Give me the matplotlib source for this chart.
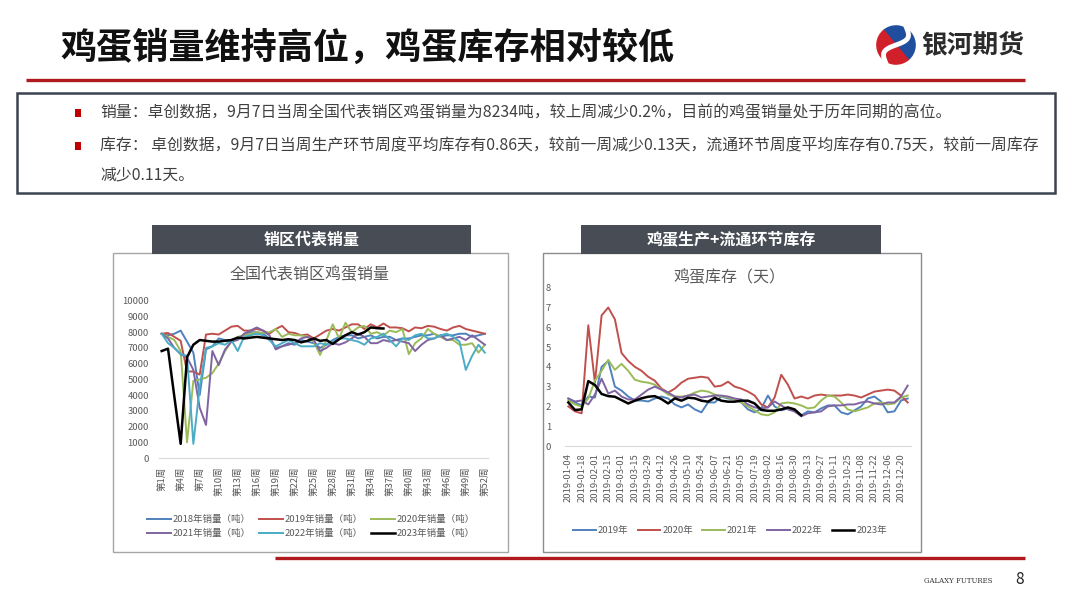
import matplotlib
matplotlib.use("Agg")
import matplotlib.pyplot as plt
from matplotlib.patches import Rectangle, Wedge
import numpy as np

plt.rcParams['font.family'] = ['Noto Sans CJK SC', 'DejaVu Sans']

W, H = 1080, 608

# ---------------- data: weekly sales (tons), weeks 1..52 ----------------
sales_weeks = list(range(1, 53))
sales_tick_labels = ["第1周", "第4周", "第7周", "第10周", "第13周", "第16周", "第19周", "第22周",
                     "第25周", "第28周", "第31周", "第34周", "第37周", "第40周", "第43周", "第46周",
                     "第49周", "第52周"]
sales_2018 = [7900, 7800, 7900, 8100, 7400, 6700, 4000, 6900, 7100, 7600, 7500, 7500, 7600, 7800,
              8000, 8000, 7900, 7600, 7000, 7100, 7300, 7200, 7500, 7400, 7300, 7000, 7200, 7500,
              7700, 7800, 7800, 7600, 7700, 7800, 7600, 7700, 7700, 7500, 7600, 7600, 7700, 7800,
              7800, 7900, 7700, 7800, 7800, 7900, 7900, 7700, 7800, 7900]
sales_2019 = [7900, 7950, 7700, 7450, 5500, 5500, 5300, 7850, 7900, 7850, 8100, 8350, 8400, 8100,
              8100, 8200, 8100, 7900, 8200, 8400, 8000, 7950, 7800, 7850, 7600, 7850, 8100, 8200,
              8100, 8300, 8500, 8500, 8200, 8500, 8300, 8550, 8300, 8300, 8250, 8050, 8300, 8250,
              8400, 8350, 8200, 8100, 8300, 8400, 8200, 8100, 8000, 7900]
sales_2020 = [7900, 7700, 7500, 6800, 1000, 4900, 5000, 5100, 5400, 6000, 6800, 7400, 7700, 7800,
              7900, 8000, 7950, 8000, 8200, 7700, 7900, 7800, 7800, 7700, 7400, 6550, 7500, 8500,
              7600, 8600, 8000, 8300, 8400, 7900, 8000, 7800, 8100, 8000, 8200, 6600, 7300, 7600,
              8200, 7900, 7700, 7500, 7500, 7200, 7200, 7300, 6700, 7200]
sales_2021 = [7900, 7600, 7000, 6600, 6400, 5600, 3200, 2100, 6800, 5900, 6900, 7400, 7500, 7900,
              8100, 8300, 8100, 7800, 6900, 7100, 7200, 7300, 7600, 7700, 7500, 6800, 7000, 7300,
              7200, 7350, 7600, 7900, 7700, 7300, 7300, 7500, 7400, 7500, 7400, 7300, 6800, 7200,
              7500, 7600, 7800, 7500, 7600, 7700, 7500, 7800, 7500, 7200]
sales_2022 = [7900, 7300, 7000, 6600, 6500, 900, 4500, 7000, 7100, 7300, 7200, 7500, 6800, 7700,
              7800, 7900, 7800, 7500, 7100, 7300, 7500, 7300, 7100, 7100, 7100, 7300, 7200, 7400,
              7600, 7600, 7500, 7400, 7200, 7600, 7700, 7900, 7500, 7100, 7600, 7500, 7800, 7900,
              7600, 7600, 7800, 7900, 7700, 7400, 5600, 6500, 7200, 6700]
sales_2023 = [6800, 6950, 3900, 900, 6400, 7200, 7500, 7450, 7400, 7400, 7450, 7500, 7650, 7600,
              7650, 7700, 7650, 7600, 7550, 7500, 7550, 7500, 7350, 7450, 7600, 7450, 7500, 7250,
              7550, 7800, 8000, 7850, 8000, 8300, 8250, 8234]
sales_series = [("2018年销量（吨）", sales_2018, "#4F81BD", 1.4),
                ("2019年销量（吨）", sales_2019, "#C0504D", 1.4),
                ("2020年销量（吨）", sales_2020, "#9BBB59", 1.4),
                ("2021年销量（吨）", sales_2021, "#8064A2", 1.4),
                ("2022年销量（吨）", sales_2022, "#4BACC6", 1.4),
                ("2023年销量（吨）", sales_2023, "#000000", 1.8)]

# ---------------- data: inventory (days), weekly 2019-01-04 .. 2019-12-27 ----------------
inv_tick_labels = ["2019-01-04", "2019-01-18", "2019-02-01", "2019-02-15", "2019-03-01",
                   "2019-03-15", "2019-03-29", "2019-04-12", "2019-04-26", "2019-05-10",
                   "2019-05-24", "2019-06-07", "2019-06-21", "2019-07-05", "2019-07-19",
                   "2019-08-02", "2019-08-16", "2019-08-30", "2019-09-13", "2019-09-27",
                   "2019-10-11", "2019-10-25", "2019-11-08", "2019-11-22", "2019-12-06",
                   "2019-12-20"]
inv_2019 = [2.4, 2.2, 2.05, 2.5, 2.45, 4.0, 4.3, 3.0, 2.8, 2.5, 2.3, 2.3, 2.25, 2.4, 2.5, 2.4,
            2.1, 1.95, 2.1, 1.85, 1.7, 2.2, 2.2, 2.5, 2.4, 2.35, 2.2, 1.85, 1.7, 1.9, 2.55, 2.0,
            1.8, 1.9, 1.75, 1.55, 1.75, 1.7, 1.9, 2.05, 2.05, 1.7, 1.6, 1.8, 2.0, 2.4, 2.5, 2.25,
            1.7, 1.75, 2.3, 2.4]
inv_2020 = [2.0, 1.75, 1.65, 6.1, 3.2, 6.6, 7.0, 6.4, 4.7, 4.3, 4.0, 3.8, 3.5, 3.3, 2.9, 2.7,
            2.9, 3.2, 3.4, 3.45, 3.5, 3.45, 3.0, 3.05, 3.25, 3.0, 2.9, 2.75, 2.55, 2.1, 1.95, 2.45,
            3.6, 3.1, 2.4, 2.5, 2.4, 2.55, 2.6, 2.55, 2.55, 2.55, 2.6, 2.55, 2.45, 2.6, 2.75, 2.8,
            2.85, 2.8, 2.55, 2.2]
inv_2021 = [2.3, 2.1, 2.0, 2.4, 3.3, 3.8, 4.35, 3.85, 4.15, 3.8, 3.35, 3.25, 3.2, 3.1, 2.85, 2.6,
            2.5, 2.5, 2.55, 2.7, 2.8, 2.75, 2.6, 2.5, 2.45, 2.35, 2.2, 2.0, 1.8, 1.6, 1.55, 1.7,
            2.15, 2.2, 2.15, 2.05, 1.9, 1.95, 2.3, 2.55, 2.5, 2.2, 1.85, 1.75, 1.85, 1.95, 2.15,
            2.2, 2.1, 2.15, 2.45, 2.55]
inv_2022 = [2.4, 2.25, 2.3, 2.1, 2.6, 3.4, 2.65, 2.8, 2.5, 2.35, 2.35, 2.6, 2.85, 3.0, 2.85, 2.7,
            2.5, 2.45, 2.55, 2.6, 2.45, 2.5, 2.55, 2.55, 2.5, 2.4, 2.35, 2.1, 1.95, 1.9, 1.95, 2.25,
            2.05, 1.85, 1.75, 1.5, 1.65, 1.7, 1.75, 2.0, 2.05, 2.05, 2.1, 2.1, 2.2, 2.25, 2.15,
            2.1, 2.2, 2.2, 2.5, 3.05]
inv_2023 = [2.2, 1.82, 1.85, 3.28, 3.08, 2.63, 2.52, 2.49, 2.32, 2.15, 2.29, 2.41, 2.49, 2.52,
            2.37, 2.15, 2.41, 2.29, 2.44, 2.41, 2.29, 2.24, 2.44, 2.29, 2.24, 2.24, 2.29, 2.29,
            2.15, 1.82, 1.78, 1.78, 1.85, 1.95, 1.85, 1.55]
inv_series = [("2019年", inv_2019, "#4F81BD", 1.4),
              ("2020年", inv_2020, "#C0504D", 1.4),
              ("2021年", inv_2021, "#9BBB59", 1.4),
              ("2022年", inv_2022, "#8064A2", 1.4),
              ("2023年", inv_2023, "#000000", 1.8)]

title_text = "鸡蛋销量维持高位，鸡蛋库存相对较低"
bullet_lines = [
    "销量：卓创数据，9月7日当周全国代表销区鸡蛋销量为8234吨，较上周减少0.2%，目前的鸡蛋销量处于历年同期的高位。",
    "库存： 卓创数据，9月7日当周生产环节周度平均库存有0.86天，较前一周减少0.13天，流通环节周度平均库存有0.75天，较前一周库存",
    "减少0.11天。",
]

# ---------------- figure ----------------
fig = plt.figure(figsize=(W / 100, H / 100), dpi=100)
fig.patch.set_facecolor("white")


def fx(x):
    return x / W


def fy(y):
    return 1 - y / H


def rect(x0, y0, x1, y1, **kw):
    r = Rectangle((fx(x0), fy(y1)), (x1 - x0) / W, (y1 - y0) / H, transform=fig.transFigure,
                  zorder=-5, **kw)
    fig.patches.append(r)
    return r


def hline(x0, x1, y, color, lw):
    fig.add_artist(plt.Line2D([fx(x0), fx(x1)], [fy(y), fy(y)], transform=fig.transFigure,
                              color=color, lw=lw, solid_capstyle="butt"))


# title
fig.text(fx(60), fy(48), title_text, fontsize=26, fontweight="bold", color="#111111",
         ha="left", va="center")
hline(26, 1025, 80, "#B0191E", 2.4)

# logo
lax = fig.add_axes([fx(874), fy(66), 44 / W, 42 / H])
lax.set_xlim(-1.15, 1.15)
lax.set_ylim(-1.1, 1.1)
lax.axis("off")
lax.add_patch(Wedge((0, 0), 1.0, -50, 130, color="#1F4E9E"))
lax.add_patch(Wedge((0, 0), 1.0, 130, 310, color="#D0202A"))
tt = np.linspace(-1, 1, 60)
lax.plot(0.55 * np.sin(tt * np.pi) * 0.6 + tt * 0.55, tt * 0.9 - 0.1 * np.sin(tt * np.pi), color="white", lw=3.5)
fig.text(fx(921), fy(45), "银河期货", fontsize=18.5, fontweight="bold", color="#2B2B2B",
         ha="left", va="center")

# text box
rect(17, 93, 1055, 193, facecolor="white", edgecolor="#3C4350", lw=1.8)
for yy in (113, 146):
    rect(75, yy - 4, 81, yy + 4, facecolor="#C00000", edgecolor="none")
fig.text(fx(100), fy(113), bullet_lines[0], fontsize=11.4, color="#404040", ha="left", va="center")
fig.text(fx(100), fy(146), bullet_lines[1], fontsize=11.4, color="#404040", ha="left", va="center")
fig.text(fx(100), fy(175), bullet_lines[2], fontsize=11.4, color="#404040", ha="left", va="center")

# chart frames and headers
rect(113, 253, 508, 552, facecolor="white", edgecolor="#A6A6A6", lw=1.0)
rect(543, 253, 921, 552, facecolor="white", edgecolor="#8C8C8C", lw=1.0)
rect(152, 225, 471, 254, facecolor="#474C55", edgecolor="none")
rect(581, 225, 881, 254, facecolor="#474C55", edgecolor="none")
fig.text(fx(311.5), fy(239.5), "销区代表销量", fontsize=11.5, fontweight="bold", color="white",
         ha="center", va="center")
fig.text(fx(731), fy(239.5), "鸡蛋生产+流通环节库存", fontsize=11.5, fontweight="bold", color="white",
         ha="center", va="center")

# ---------------- left chart ----------------
ax1 = fig.add_axes([fx(158.5), fy(458), (488 - 158.5) / W, (458 - 300.7) / H])
for name, vals, col, lw in sales_series:
    ax1.plot(range(len(vals)), vals, color=col, lw=lw, label=name)
ax1.set_xlim(-0.5, len(sales_weeks) - 0.5)
ax1.set_ylim(0, 10000)
ax1.set_yticks(range(0, 10001, 1000))
ax1.set_xticks(range(0, len(sales_weeks), 3))
ax1.set_xticklabels(sales_tick_labels, rotation=90)
for s in ("top", "right", "left"):
    ax1.spines[s].set_visible(False)
ax1.spines["bottom"].set_color("#D9D9D9")
ax1.tick_params(axis="both", length=0, labelsize=6.8, colors="#595959")
ax1.tick_params(axis="y", pad=7)
ax1.tick_params(axis="x", pad=6)
ax1.patch.set_alpha(0)
fig.text(fx(310), fy(275), "全国代表销区鸡蛋销量", fontsize=11.5, color="#595959", ha="center", va="center")
h, l = ax1.get_legend_handles_labels()
order = [0, 3, 1, 4, 2, 5]
fig.legend([h[i] for i in order], [l[i] for i in order], loc="center",
           bbox_to_anchor=(fx(311), fy(526.5)), ncol=3, frameon=False,
           fontsize=6.8, handlelength=2.5, handletextpad=0.2, columnspacing=0.9,
           labelspacing=0.55, labelcolor="#595959")

# ---------------- right chart ----------------
ax2 = fig.add_axes([fx(565), fy(446), (911 - 565) / W, (446 - 287.7) / H])
for name, vals, col, lw in inv_series:
    ax2.plot(range(len(vals)), vals, color=col, lw=lw, label=name)
ax2.set_xlim(-0.5, 51.5)
ax2.set_ylim(0, 8)
ax2.set_yticks(range(0, 9))
ax2.set_xticks(range(0, 52, 2))
ax2.set_xticklabels(inv_tick_labels, rotation=90)
for s in ("top", "right", "left"):
    ax2.spines[s].set_visible(False)
ax2.spines["bottom"].set_color("#D9D9D9")
ax2.tick_params(axis="both", length=0, labelsize=6.8, colors="#595959")
ax2.tick_params(axis="y", pad=10)
ax2.tick_params(axis="x", pad=5)
ax2.patch.set_alpha(0)
fig.text(fx(730), fy(278), "鸡蛋库存（天）", fontsize=11.5, color="#595959", ha="center", va="center")
h, l = ax2.get_legend_handles_labels()
fig.legend(h, l, loc="center", bbox_to_anchor=(fx(730), fy(531)), ncol=5, frameon=False,
           fontsize=6.8, handlelength=2.4, handletextpad=0.2, columnspacing=1.0,
           labelcolor="#595959")

# footer
hline(275, 1025, 558, "#B0191E", 2.4)
fig.text(fx(958), fy(581), "GALAXY FUTURES", fontsize=5, family="DejaVu Serif", color="#333333",
         ha="center", va="center")
fig.text(fx(1020), fy(580), "8", fontsize=11, color="#222222", ha="center", va="center")

fig.savefig("out.png", dpi=100, facecolor="white")
